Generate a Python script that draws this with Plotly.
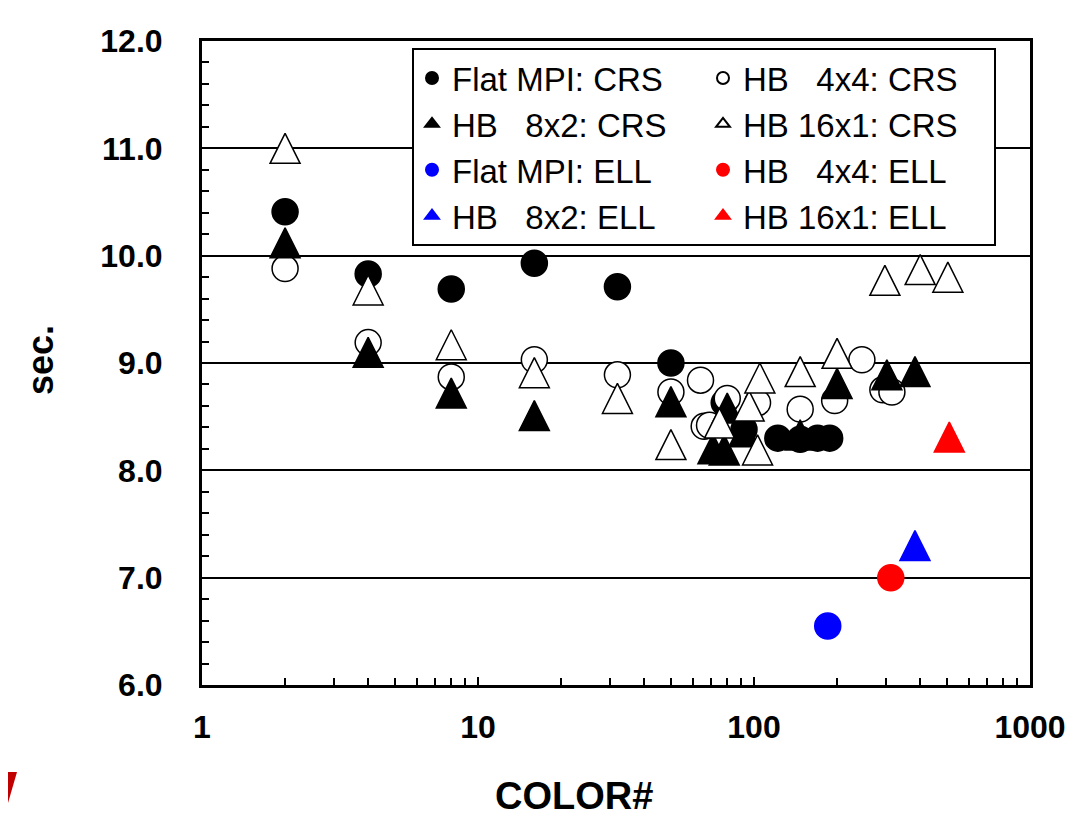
import plotly.graph_objects as go

# ---------------- data ----------------
flat_crs_x = [2, 4, 8, 16, 32, 50, 78, 92, 122, 147, 170, 188]
flat_crs_y = [10.41, 9.83, 9.69, 9.93, 9.71, 9.00, 8.63, 8.38, 8.30, 8.29, 8.30, 8.30]

hb44_crs_x = [2, 4, 8, 16, 32, 50, 64, 66, 69, 80, 103, 147, 196, 246, 293, 316]
hb44_crs_y = [9.88, 9.19, 8.87, 9.03, 8.89, 8.73, 8.84, 8.41, 8.42, 8.67, 8.63, 8.57, 8.65, 9.03, 8.75, 8.73]

hb82_crs_x = [2, 4, 8, 16, 50, 71, 78, 80, 92, 147, 200, 303, 383]
hb82_crs_y = [10.12, 9.10, 8.72, 8.51, 8.64, 8.20, 8.19, 8.58, 8.36, 8.33, 8.81, 8.89, 8.92]

hb161_crs_x = [2, 4, 8, 16, 32, 50, 75, 96, 103, 105, 147, 200, 298, 400, 504]
hb161_crs_y = [11.00, 9.68, 9.17, 8.91, 8.67, 8.24, 8.44, 8.60, 8.19, 8.86, 8.92, 9.09, 9.77, 9.87, 9.80]

flat_ell_x = [185]
flat_ell_y = [6.55]
hb44_ell_x = [313]
hb44_ell_y = [7.00]
hb82_ell_x = [383]
hb82_ell_y = [7.30]
hb161_ell_x = [510]
hb161_ell_y = [8.31]

names = [
    "Flat MPI: CRS", "HB\u00a0\u20074x4: CRS",
    "HB\u00a0\u20078x2: CRS", "HB 16x1: CRS",
    "Flat MPI: ELL", "HB\u00a0\u20074x4: ELL",
    "HB\u00a0\u20078x2: ELL", "HB 16x1: ELL",
]

# ---------------- figure ----------------
BLACK = "#000000"
BLUE = "#0000ff"
RED = "#ff0000"
CS = 26   # circle size
TS = 30   # triangle size
TRI = "tri"

series = [
    (flat_crs_x, flat_crs_y, names[0], "circle", BLACK, BLACK, CS),
    (hb44_crs_x, hb44_crs_y, names[1], "circle", "white", BLACK, CS),
    (hb82_crs_x, hb82_crs_y, names[2], TRI, BLACK, BLACK, TS),
    (hb161_crs_x, hb161_crs_y, names[3], TRI, "white", BLACK, TS),
    (flat_ell_x, flat_ell_y, names[4], "circle", BLUE, BLUE, CS),
    (hb44_ell_x, hb44_ell_y, names[5], "circle", RED, RED, CS),
    (hb82_ell_x, hb82_ell_y, names[6], TRI, BLUE, BLUE, TS),
    (hb161_ell_x, hb161_ell_y, names[7], TRI, RED, RED, TS),
]

fig = go.Figure()
for i, (xs, ys, nm, sym, fill, line, sz) in enumerate(series):
    grp = f"g{i}"
    if sym == TRI:
        # legend entry: a plain upward triangle
        fig.add_trace(go.Scatter(
            x=[None], y=[None], name=nm, mode="markers", legendgroup=grp,
            marker=dict(symbol="triangle-up", size=sz, color=fill,
                        line=dict(color=line, width=1.5)),
        ))
        # data: upward triangle (as tall as wide), centred on the data point
        fig.add_trace(go.Scatter(
            x=xs, y=ys, name=nm, mode="markers", legendgroup=grp, showlegend=False,
            marker=dict(symbol="arrow-down", angle=180, standoff=sz / 2, size=sz,
                        color=fill, line=dict(color=line, width=1.5)),
        ))
    else:
        fig.add_trace(go.Scatter(
            x=xs, y=ys, name=nm, mode="markers", legendgroup=grp,
            marker=dict(symbol=sym, size=sz, color=fill,
                        line=dict(color=line, width=1.5)),
        ))

OFF = 8                      # page body margin
W, H = 1078 - OFF, 819 - OFF
L, R, T, B = 202 - OFF, 48, 41 - OFF, 134
PW, PH = W - L - R, H - T - B


def paper(px, py):
    """reference picture pixel -> paper coordinate"""
    fx, fy = px - OFF, py - OFF
    return ((fx - L) / PW, ((H - B) - fy) / PH)


font_family = "Liberation Sans, Arial, sans-serif"

lx, ly = paper(412, 48)
cx, cy = paper(574, 796)
sx, sy = paper(40, 360)

fig.update_layout(
    width=W, height=H,
    margin=dict(l=L, r=R, t=T, b=B, pad=0),
    paper_bgcolor="white", plot_bgcolor="white",
    font=dict(family=font_family, color=BLACK),
    showlegend=True,
    legend=dict(
        orientation="h",
        x=lx, y=ly, xanchor="left", yanchor="top",
        entrywidth=246, entrywidthmode="pixels",
        bordercolor=BLACK, borderwidth=2, bgcolor="white",
        font=dict(size=33, family=font_family, color=BLACK),
        itemsizing="constant", tracegroupgap=0, groupclick="toggleitem",
    ),
    xaxis=dict(
        type="log", range=[0, 3],
        tickvals=[1, 10, 100, 1000], ticktext=["1", "10", "100", "1000"],
        ticks="inside", ticklen=8, tickwidth=2, tickcolor=BLACK,
        minor=dict(ticks="inside", ticklen=7, tickwidth=2, tickcolor=BLACK,
                   dtick="D1", showgrid=False),
        showgrid=False, zeroline=False,
        showline=True, linecolor=BLACK, linewidth=3, mirror=True,
        tickfont=dict(size=32, family=font_family, color=BLACK, weight="bold"),
        ticklabelstandoff=12,
    ),
    yaxis=dict(
        range=[6, 12], dtick=1, tickformat=".1f",
        ticks="inside", ticklen=8, tickwidth=2, tickcolor=BLACK,
        minor=dict(ticks="inside", ticklen=7, tickwidth=2, tickcolor=BLACK,
                   dtick=0.2, showgrid=False),
        showgrid=True, gridcolor=BLACK, gridwidth=2, zeroline=False,
        showline=True, linecolor=BLACK, linewidth=3, mirror=True,
        tickfont=dict(size=32, family=font_family, color=BLACK, weight="bold"),
        ticklabelstandoff=30,
    ),
    annotations=[
        dict(text="COLOR#", xref="paper", yref="paper", x=cx, y=cy,
             xanchor="center", yanchor="middle", showarrow=False,
             font=dict(size=38, family=font_family, color=BLACK, weight="bold")),
        dict(text="sec.", xref="paper", yref="paper", x=sx, y=sy,
             xanchor="center", yanchor="middle", showarrow=False, textangle=-90,
             font=dict(size=36, family=font_family, color=BLACK, weight="bold")),
    ],
)

# decorative red corner mark (bottom-left edge of the picture)
p1 = paper(8, 772)
p2 = paper(17, 772)
p3 = paper(8, 803)
fig.add_shape(type="path", xref="paper", yref="paper",
              path=f"M {p1[0]},{p1[1]} L {p2[0]},{p2[1]} L {p3[0]},{p3[1]} Z",
              fillcolor="#c00000", line=dict(width=0), layer="above")

fig.write_html("out.html")
